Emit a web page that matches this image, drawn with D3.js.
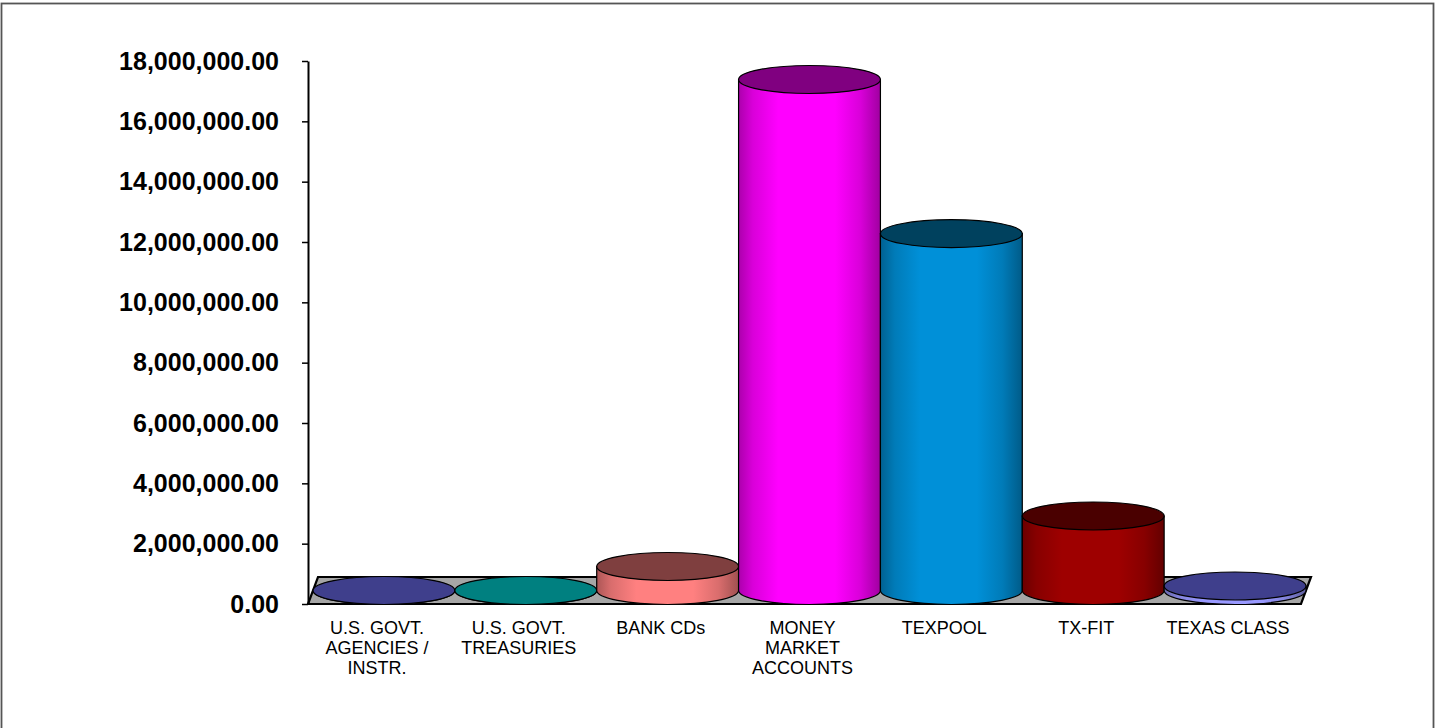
<!DOCTYPE html>
<html>
<head>
<meta charset="utf-8">
<script src="https://cdn.jsdelivr.net/npm/d3@7"></script>
<style>
  html, body { margin: 0; padding: 0; background: #fff; }
  svg { display: block; font-family: Arial, "Liberation Sans", sans-serif; }
</style>
</head>
<body>
<svg id="chart" width="1436" height="728"></svg>
<script>
// Investment balances by category
const categories = [
  "U.S. GOVT.\nAGENCIES /\nINSTR.",
  "U.S. GOVT.\nTREASURIES",
  "BANK CDs",
  "MONEY\nMARKET\nACCOUNTS",
  "TEXPOOL",
  "TX-FIT",
  "TEXAS CLASS"
];
const balances = [0, 0, 795000, 16940000, 11830000, 2470000, 150000];
const sideColors = ["#9999FF", "#00C0C0", "#FF8080", "#FF00FF", "#0090D8", "#9E0000", "#9999FF"];
const topColors  = ["#3F3F8C", "#008080", "#7F3F3F", "#800080", "#00415E", "#4A0000", "#3F3F8C"];
const yTicks = [0, 2000000, 4000000, 6000000, 8000000, 10000000, 12000000, 14000000, 16000000, 18000000];

const svg = d3.select("#chart");

// outer frame
svg.append("rect")
  .attr("x", 1.5).attr("y", 3.5)
  .attr("width", 1432).attr("height", 740)
  .attr("fill", "none").attr("stroke", "#555").attr("stroke-width", 1.8);

const left = 308, right = 1301, y0 = 604, yTop = 61;
const depthX = 10, depthY = -27;

const x = d3.scaleBand().domain(categories).range([left, right]).padding(0);
const y = d3.scaleLinear().domain([0, 18000000]).range([y0, yTop]);

// floor
svg.append("path")
  .attr("d", d3.line()([
    [left, y0], [right, y0], [right + depthX, y0 + depthY], [left + depthX, y0 + depthY]
  ]) + "Z")
  .attr("fill", "#A6A6A6")
  .attr("stroke", "#000")
  .attr("stroke-width", 2.2)
  .attr("stroke-linejoin", "miter");

// y axis
const yAxis = d3.axisLeft(y)
  .tickValues(yTicks)
  .tickFormat(d3.format(",.2f"))
  .tickSize(6)
  .tickSizeOuter(0)
  .tickPadding(23);

const gAxis = svg.append("g")
  .attr("transform", `translate(${left},0)`)
  .call(yAxis);
gAxis.select(".domain").attr("stroke", "#000").attr("stroke-width", 2);
gAxis.selectAll(".tick line").attr("stroke", "#000").attr("stroke-width", 1.5);
gAxis.selectAll(".tick text")
  .attr("fill", "#000")
  .style("font-size", "25px")
  .style("font-weight", "bold")
  .style("font-family", "Arial, 'Liberation Sans', sans-serif");

// gradients for cylinder sides
const defs = svg.append("defs");
sideColors.forEach((c, i) => {
  const base = d3.color(c);
  const g = defs.append("linearGradient")
    .attr("id", "side" + i)
    .attr("x1", "0%").attr("x2", "100%").attr("y1", "0%").attr("y2", "0%");
  [
    [0, base.darker(1.1)],
    [0.1, base.darker(0.45)],
    [0.28, base],
    [0.68, base],
    [0.86, base.darker(0.45)],
    [1, base.darker(1.3)]
  ].forEach(([o, col]) => g.append("stop").attr("offset", o).attr("stop-color", col.formatHex()));
});

// cylinders, placed at mid depth of the floor
const rx = x.bandwidth() / 2;
const ry = 14;
const midDX = depthX / 2, midDY = depthY / 2;

const bars = svg.append("g").selectAll("g")
  .data(categories.map((c, i) => ({ c, v: balances[i], i })))
  .join("g");

bars.each(function (d) {
  const g = d3.select(this);
  const cx = x(d.c) + rx + midDX;
  const yb = y(0) + midDY;
  const yt = y(d.v) + midDY;
  g.append("path")
    .attr("d", `M${cx - rx},${yt} L${cx - rx},${yb} A${rx},${ry} 0 0 0 ${cx + rx},${yb} L${cx + rx},${yt} Z`)
    .attr("fill", `url(#side${d.i})`)
    .attr("stroke", "#000")
    .attr("stroke-width", 1.2);
  g.append("ellipse")
    .attr("cx", cx).attr("cy", yt)
    .attr("rx", rx).attr("ry", ry)
    .attr("fill", topColors[d.i])
    .attr("stroke", "#000")
    .attr("stroke-width", 1.2);
});

// category labels
const labels = svg.append("g").selectAll("text")
  .data(categories)
  .join("text")
  .attr("x", d => x(d) + x.bandwidth() / 2)
  .attr("y", 634)
  .attr("text-anchor", "middle")
  .attr("fill", "#000")
  .style("font-size", "18px");
labels.each(function (d) {
  const t = d3.select(this);
  d.split("\n").forEach((line, k) => {
    t.append("tspan")
      .attr("x", x(d) + x.bandwidth() / 2 - 2)
      .attr("dy", k === 0 ? 0 : 20)
      .text(line);
  });
});
</script>
</body>
</html>
